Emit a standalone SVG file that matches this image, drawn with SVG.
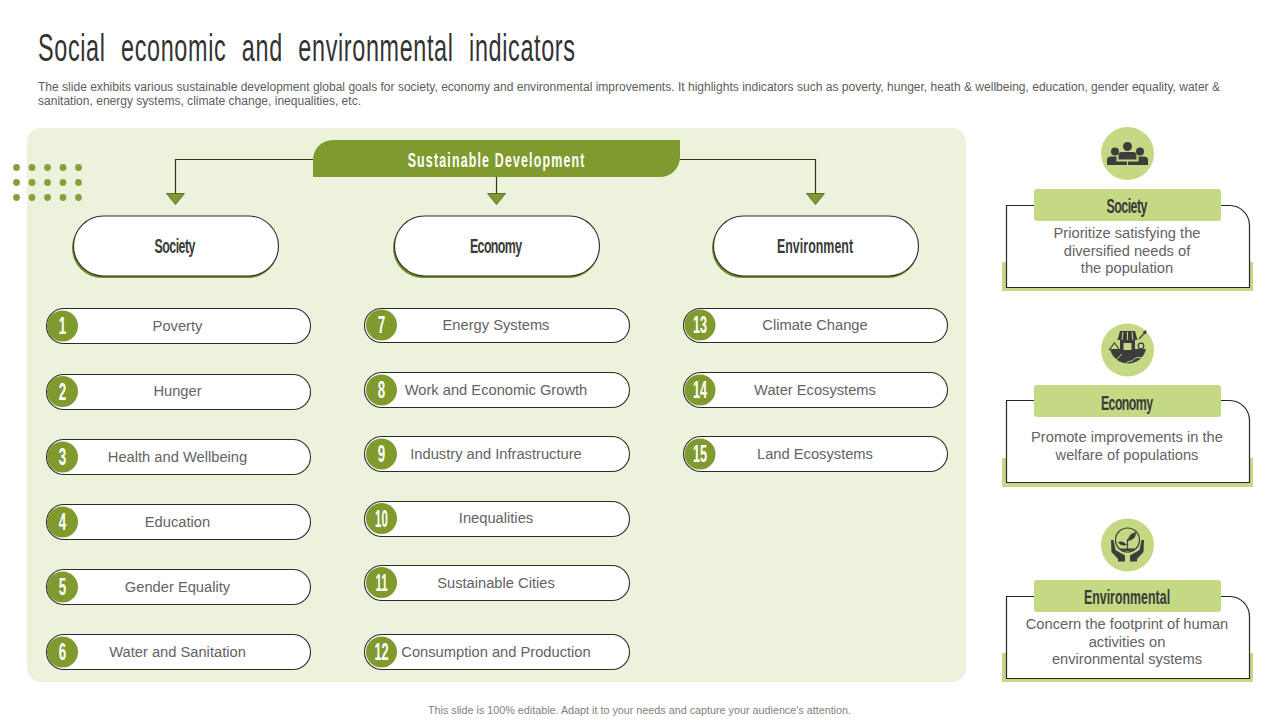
<svg xmlns="http://www.w3.org/2000/svg" width="1280" height="720" viewBox="0 0 1280 720">
<style>
text{font-family:"Liberation Sans",Arial,sans-serif}
.body{font-size:14.7px;fill:#636363;text-anchor:middle}
.desc{font-size:12px;fill:#5c5c5c}
.cond{text-anchor:middle;fill:#3a3a3a;font-weight:700;font-size:20px}
.pill{fill:#fff;stroke:#2b2b2b;stroke-width:1.1}
.shadow{fill:#6f8c22}
.num{fill:#7f9a2d}
.numt{fill:#fff;font-size:23px;font-weight:700;text-anchor:middle}
.conn{fill:none;stroke:#2b3a12;stroke-width:1.2}
.tri{fill:#7f9a2d;stroke:#4a5c1a;stroke-width:.8}
.band{fill:#c5d985}
.card{fill:#fff;stroke:#262626;stroke-width:1.2}
.ic{fill:#3d3d3d}
.icl{fill:none;stroke:#3d3d3d;stroke-width:1.2}
.cut{fill:none;stroke:#c5d985;stroke-width:1}
.dot{fill:#87a03f}
</style>
<rect width="1280" height="720" fill="#fff"/>
<text id="title" transform="translate(38 61) scale(.6 1)" font-size="39" fill="#333" word-spacing="14" textLength="895" lengthAdjust="spacing">Social economic and environmental indicators</text>
<g id="subtitle">
<text class="desc" x="38" y="91" textLength="1182" lengthAdjust="spacingAndGlyphs">The slide exhibits various sustainable development global goals for society, economy and environmental improvements. It highlights indicators such as poverty, hunger, heath &amp; wellbeing, education, gender equality, water &amp;</text>
<text class="desc" x="38" y="105" textLength="323" lengthAdjust="spacingAndGlyphs">sanitation, energy systems, climate change, inequalities, etc.</text>
</g>
<rect id="panel" x="27" y="128" width="939" height="554" rx="14" fill="#ecf2dc"/>
<g id="dots">
<circle class="dot" cx="16.500" cy="167.500" r="3.400"/><circle class="dot" cx="32" cy="167.500" r="3.400"/><circle class="dot" cx="47.500" cy="167.500" r="3.400"/><circle class="dot" cx="63" cy="167.500" r="3.400"/><circle class="dot" cx="78.500" cy="167.500" r="3.400"/>
<circle class="dot" cx="16.500" cy="182.500" r="3.400"/><circle class="dot" cx="32" cy="182.500" r="3.400"/><circle class="dot" cx="47.500" cy="182.500" r="3.400"/><circle class="dot" cx="63" cy="182.500" r="3.400"/><circle class="dot" cx="78.500" cy="182.500" r="3.400"/>
<circle class="dot" cx="16.500" cy="197.500" r="3.400"/><circle class="dot" cx="32" cy="197.500" r="3.400"/><circle class="dot" cx="47.500" cy="197.500" r="3.400"/><circle class="dot" cx="63" cy="197.500" r="3.400"/><circle class="dot" cx="78.500" cy="197.500" r="3.400"/>
</g>
<g id="connectors">
<path class="conn" d="M313 159.500H175.500V194"/>
<path class="conn" d="M496.500 177V194"/>
<path class="conn" d="M680 159.500H815.500V194"/>
<path class="tri" d="M166.500 193.500H184.500L175.500 204.500Z"/>
<path class="tri" d="M487.500 193.500H505.500L496.500 204.500Z"/>
<path class="tri" d="M806.500 193.500H824.500L815.500 204.500Z"/>
</g>
<g id="header">
<path d="M333 140H680V157A20 20 0 0 1 660 177H313V160A20 20 0 0 1 333 140Z" fill="#7f9a2d"/>
<text transform="translate(496 167) scale(.62 1)" font-size="20" font-weight="700" fill="#fff" text-anchor="middle" textLength="285" lengthAdjust="spacing">Sustainable Development</text>
</g>
<g id="cat-society"><rect class="shadow" x="72" y="218" width="206" height="60" rx="30"/><rect class="pill" x="73.500" y="216" width="205" height="60" rx="30"/><text class="cond" transform="translate(175 253) scale(.62 1)" textLength="66" lengthAdjust="spacing">Society</text></g>
<g id="cat-economy"><rect class="shadow" x="393" y="218" width="206" height="60" rx="30"/><rect class="pill" x="394.500" y="216" width="205" height="60" rx="30"/><text class="cond" transform="translate(496 253) scale(.62 1)" textLength="84" lengthAdjust="spacing">Economy</text></g>
<g id="cat-environment"><rect class="shadow" x="712" y="218" width="206" height="60" rx="30"/><rect class="pill" x="713.500" y="216" width="205" height="60" rx="30"/><text class="cond" transform="translate(815 253) scale(.62 1)" textLength="123" lengthAdjust="spacing">Environment</text></g>

<g id="item-1"><rect class="pill" x="46.500" y="308.500" width="264" height="35" rx="17.500"/><circle class="num" cx="62.500" cy="326" r="15.500"/><text class="numt" transform="translate(62.500 334) scale(.58 1)">1</text><text class="body" x="177.500" y="331">Poverty</text></g>
<g id="item-2"><rect class="pill" x="46.500" y="374.500" width="264" height="35" rx="17.500"/><circle class="num" cx="62.500" cy="391.500" r="15.500"/><text class="numt" transform="translate(62.500 399.500) scale(.58 1)">2</text><text class="body" x="177.500" y="396">Hunger</text></g>
<g id="item-3"><rect class="pill" x="46.500" y="439.500" width="264" height="35" rx="17.500"/><circle class="num" cx="62.500" cy="457" r="15.500"/><text class="numt" transform="translate(62.500 465) scale(.58 1)">3</text><text class="body" x="177.500" y="462">Health and Wellbeing</text></g>
<g id="item-4"><rect class="pill" x="46.500" y="504.500" width="264" height="35" rx="17.500"/><circle class="num" cx="62.500" cy="522" r="15.500"/><text class="numt" transform="translate(62.500 530) scale(.58 1)">4</text><text class="body" x="177.500" y="527">Education</text></g>
<g id="item-5"><rect class="pill" x="46.500" y="569.500" width="264" height="35" rx="17.500"/><circle class="num" cx="62.500" cy="587" r="15.500"/><text class="numt" transform="translate(62.500 595) scale(.58 1)">5</text><text class="body" x="177.500" y="592">Gender Equality</text></g>
<g id="item-6"><rect class="pill" x="46.500" y="634.500" width="264" height="35" rx="17.500"/><circle class="num" cx="62.500" cy="652" r="15.500"/><text class="numt" transform="translate(62.500 660) scale(.58 1)">6</text><text class="body" x="177.500" y="657">Water and Sanitation</text></g>

<g id="item-7"><rect class="pill" x="364.500" y="308.500" width="265" height="34" rx="17"/><circle class="num" cx="381.500" cy="325" r="15.500"/><text class="numt" transform="translate(381.500 333) scale(.58 1)">7</text><text class="body" x="496" y="330">Energy Systems</text></g>
<g id="item-8"><rect class="pill" x="364.500" y="372.500" width="265" height="35" rx="17.500"/><circle class="num" cx="381.500" cy="390" r="15.500"/><text class="numt" transform="translate(381.500 398) scale(.58 1)">8</text><text class="body" x="496" y="395">Work and Economic Growth</text></g>
<g id="item-9"><rect class="pill" x="364.500" y="436.500" width="265" height="35" rx="17.500"/><circle class="num" cx="381.500" cy="454" r="15.500"/><text class="numt" transform="translate(381.500 462) scale(.58 1)">9</text><text class="body" x="496" y="459">Industry and Infrastructure</text></g>
<g id="item-10"><rect class="pill" x="364.500" y="501.500" width="265" height="35" rx="17.500"/><circle class="num" cx="381.500" cy="518.500" r="15.500"/><text class="numt" transform="translate(381.500 526.500) scale(.5 1)">10</text><text class="body" x="496" y="523">Inequalities</text></g>
<g id="item-11"><rect class="pill" x="364.500" y="565.500" width="265" height="35" rx="17.500"/><circle class="num" cx="381.500" cy="582.500" r="15.500"/><text class="numt" transform="translate(381.500 590.500) scale(.5 1)">11</text><text class="body" x="496" y="588">Sustainable Cities</text></g>
<g id="item-12"><rect class="pill" x="364.500" y="634.500" width="265" height="35" rx="17.500"/><circle class="num" cx="381.500" cy="652" r="15.500"/><text class="numt" transform="translate(381.500 660) scale(.55 1)">12</text><text class="body" x="496" y="657">Consumption and Production</text></g>

<g id="item-13"><rect class="pill" x="683.500" y="308.500" width="264" height="34" rx="17"/><circle class="num" cx="700" cy="325" r="15.500"/><text class="numt" transform="translate(700 333) scale(.55 1)">13</text><text class="body" x="815" y="330">Climate Change</text></g>
<g id="item-14"><rect class="pill" x="683.500" y="372.500" width="264" height="35" rx="17.500"/><circle class="num" cx="700" cy="390" r="15.500"/><text class="numt" transform="translate(700 398) scale(.55 1)">14</text><text class="body" x="815" y="395">Water Ecosystems</text></g>
<g id="item-15"><rect class="pill" x="683.500" y="436.500" width="264" height="35" rx="17.500"/><circle class="num" cx="700" cy="454" r="15.500"/><text class="numt" transform="translate(700 462) scale(.55 1)">15</text><text class="body" x="815" y="459">Land Ecosystems</text></g>

<g id="card-society">
<rect class="band" x="1002" y="262" width="251" height="29"/>
<path class="card" d="M1006.500 205.500H1230A20 20 0 0 1 1249.500 225V287.500H1006.500Z"/>
<rect class="band" x="1034" y="189" width="187" height="32" rx="3"/>
<text class="cond" transform="translate(1127 213) scale(.62 1)" textLength="66" lengthAdjust="spacing">Society</text>
<text class="body" x="1127" y="238">Prioritize satisfying the</text>
<text class="body" x="1127" y="256">diversified needs of</text>
<text class="body" x="1127" y="273">the population</text>
<circle class="band" cx="1127.500" cy="153.500" r="26.500"/>
<g>
<circle class="ic" cx="1115" cy="151.500" r="4"/><circle class="ic" cx="1140" cy="151.500" r="4"/><circle class="ic" cx="1127.500" cy="146.500" r="4.500"/>
<path class="ic" d="M1107 165V160Q1107 156.500 1111 156.500H1116.500V161.500H1127V165Z"/>
<path class="ic" d="M1148 165V160Q1148 156.500 1144 156.500H1138.500V161.500H1128V165Z"/>
<path class="ic" d="M1118.500 159.500V155Q1118.500 152 1122 152H1133Q1136.500 152 1136.500 155V159.500Z"/>
<path class="cut" d="M1117.500 157V160.500H1137.500V157M1127.500 160.500V165"/>
</g>
</g>

<g id="card-economy">
<rect class="band" x="1002" y="458" width="251" height="29"/>
<path class="card" d="M1006.500 400.500H1230A20 20 0 0 1 1249.500 420V482.500H1006.500Z"/>
<rect class="band" x="1034" y="385" width="187" height="32" rx="3"/>
<text class="cond" transform="translate(1127 410) scale(.62 1)" textLength="84" lengthAdjust="spacing">Economy</text>
<text class="body" x="1127" y="442">Promote improvements in the</text>
<text class="body" x="1127" y="460">welfare of populations</text>
<circle class="band" cx="1127.500" cy="350" r="26.500"/>
<g>
<path class="ic" d="M1110 349H1146A18.500 19 0 0 1 1110 349Z"/>
<path class="ic" d="M1120 340H1135V350H1120Z"/>
<path class="ic" d="M1120 331H1135L1137.500 340H1117.500Z"/>
<path class="cut" d="M1123 332L1122 340M1127.500 332V340M1132 332L1133 340"/>
<path d="M1123.500 343H1131.500V350H1123.500Z" fill="#c5d985"/>
<path class="icl" d="M1109 350L1114.500 343L1119 349"/>
<path class="icl" d="M1139 339L1145 332.500"/>
<path class="ic" d="M1142.500 332L1146.500 330L1146 334.500Z"/>
<circle class="icl" cx="1141" cy="346" r="2.800"/>
<path class="icl" d="M1141 349L1143 353"/>
<path class="cut" d="M1124 368Q1125 361 1132 361Q1136 356 1142 358"/>
<path class="cut" d="M1116 360L1122 354"/>
</g>
</g>

<g id="card-environmental">
<rect class="band" x="1002" y="653" width="251" height="29"/>
<path class="card" d="M1006.500 596.500H1230A20 20 0 0 1 1249.500 616V678.500H1006.500Z"/>
<rect class="band" x="1034" y="580" width="187" height="32" rx="3"/>
<text class="cond" transform="translate(1127 604) scale(.62 1)" textLength="139" lengthAdjust="spacing">Environmental</text>
<text class="body" x="1127" y="629">Concern the footprint of human</text>
<text class="body" x="1127" y="647">activities on</text>
<text class="body" x="1127" y="664">environmental systems</text>
<circle class="band" cx="1127.500" cy="545" r="26.500"/>
<g>
<circle class="icl" cx="1127.500" cy="540" r="12"/>
<path class="icl" d="M1127.500 549V539"/>
<path class="ic" d="M1128 541Q1128 534 1136 532Q1136 540 1128 541Z"/>
<path class="ic" d="M1127 545Q1123 540 1118 542Q1121 547 1127 545Z"/>
<path class="ic" d="M1120 548.500H1135V550Q1127.500 552 1120 550Z"/>
<path class="ic" d="M1111 540L1113.500 540L1115.500 550L1125 555.500V561.500H1118V559L1111.500 552Z"/>
<path class="ic" d="M1144 540L1141.500 540L1139.500 550L1130 555.500V561.500H1137V559L1143.500 552Z"/>
</g>
</g>
<text id="footer" x="639.500" y="714" font-size="10.500" fill="#7f7f7f" text-anchor="middle" textLength="423" lengthAdjust="spacingAndGlyphs">This slide is 100% editable. Adapt it to your needs and capture your audience's attention.</text>
</svg>
